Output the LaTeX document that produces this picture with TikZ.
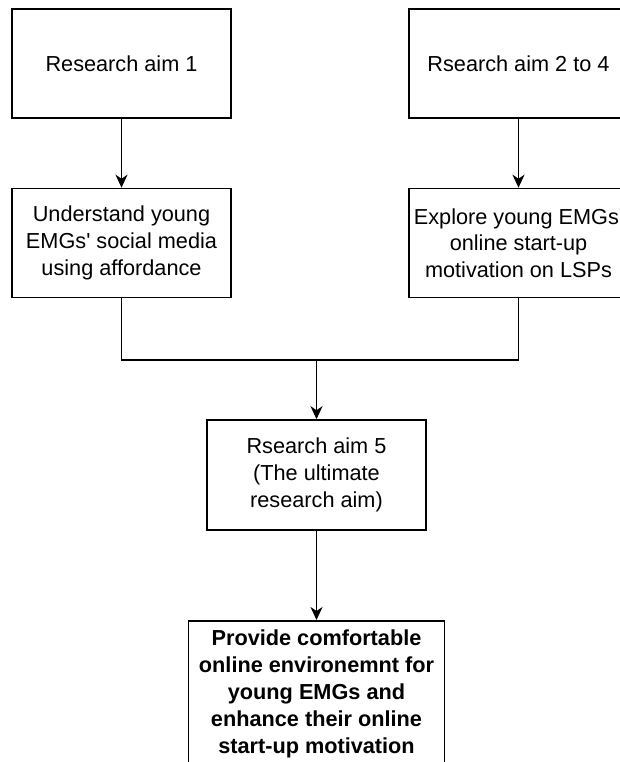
\documentclass[tikz,border=0pt]{standalone}
\usepackage{fontspec}
\setmainfont{Liberation Sans}
\usetikzlibrary{arrows.meta}
\begin{document}
\begin{tikzpicture}[x=1pt,y=-1pt,
  box/.style={draw=black,line width=1.6pt,fill=white,inner sep=0pt,align=center,
    minimum width=219pt,minimum height=109pt,
    font=\fontsize{21.7}{26.7}\selectfont},
  conn/.style={draw=black,line width=1.6pt},
  arr/.style={conn,-{Stealth[length=13pt,width=12pt,inset=4pt]}}]
\clip (0,0) rectangle (620,762);
\useasboundingbox (0,0) rectangle (620,762);
\node[box] (a1) at (121.5,63.5) {Research aim 1};
\node[box] (a2) at (121.5,243) {Understand young\\EMGs\textquotesingle{} social media\\using affordance};
\node[box] (b1) at (518.5,63.5) {Rsearch aim 2 to 4};
\node[box] (b2) at (518.5,243) {Explore young EMGs\textquotesingle\\online start-up\\motivation on LSPs};
\node[box,minimum height=110pt] (c) at (316.5,475) {Rsearch aim 5\\(The ultimate\\research aim)};
\node[box,minimum width=256pt,minimum height=146pt,anchor=north,font=\fontsize{21.7}{27}\selectfont\bfseries] (d) at (316.5,620)
  {Provide comfortable\\online environemnt for\\young EMGs and\\enhance their online\\start-up motivation};
\coordinate (j) at (316.5,360);
\draw[arr] (a1.south) -- (a2.north);
\draw[arr] (b1.south) -- (b2.north);
\draw[conn] (a2.south) -- (a2.south |- j) -- (b2.south |- j) -- (b2.south);
\draw[arr] (j) -- (c.north);
\draw[arr] (c.south) -- (d.north);
\end{tikzpicture}
\end{document}
